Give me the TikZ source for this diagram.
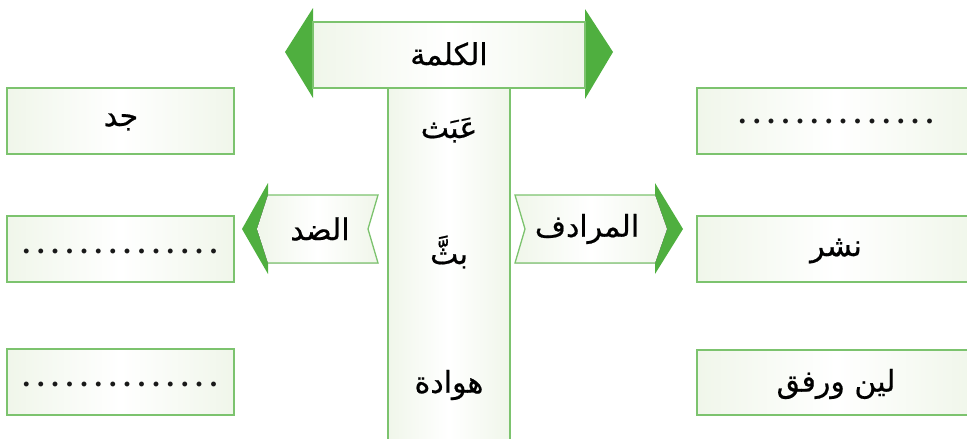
\documentclass[tikz,border=0pt]{standalone}
\usepackage{fontspec}
\newfontfamily\arabicfont[Script=Arabic, FakeBold=0.6]{DejaVu Sans}
\newfontfamily\dotfont{Liberation Serif}
\TeXXeTstate=1
\definecolor{edgeg}{HTML}{7CC36E}
\definecolor{darkg}{HTML}{4FAF3F}
\definecolor{paleg}{HTML}{F0F6EA}
\newcommand\mydotcell{\makebox[14.4pt]{.}}
\newcommand\mydotrow{\mydotcell\mydotcell\mydotcell\mydotcell\mydotcell\mydotcell\mydotcell\mydotcell\mydotcell\mydotcell\mydotcell\mydotcell\mydotcell\mydotcell}
\tikzset{
  panel/.style={left color=paleg, right color=paleg, middle color=white},
  rim/.style={draw=edgeg, line width=1.3pt},
  tri/.style={fill=darkg},
  word/.style={font=\arabicfont\fontsize{30}{34}\selectfont, text=black, inner sep=0pt},
  dotrow/.style={font=\dotfont\bfseries\fontsize{30}{34}\selectfont, text=black!90, inner sep=0pt}
}
\begin{document}
\begin{tikzpicture}[x=1pt,y=-1pt]
\useasboundingbox (0,0) rectangle (967,439);
% central column
\path[panel,rim] (388,88) rectangle (510,445);
% top banner
\fill[tri] (313,8) -- (285,52) -- (313,98) -- cycle;
\fill[tri] (585,9) -- (613,52) -- (585,99) -- cycle;
\path[panel,rim] (313,22) rectangle (585,88);
\node[word] (kalima) at (449,54) {\beginR الكلمة\endR};
% column words
\node[word] (w1) at (449,130) {\beginR عَبَث\endR};
\node[word] (w2) at (449,252) {\beginR بثَّ\endR};
\node[word] (w3) at (449,385) {\beginR هوادة\endR};
% left arrow (antonym)
\fill[tri] (268,183) -- (242,229) -- (268,274) -- cycle;
\fill[panel] (378,195) -- (268,195) -- (257,229) -- (268,263) -- (378,263) -- (368,229) -- cycle;
\draw[rim] (268,195) -- (378,195) -- (368,229) -- (378,263) -- (268,263);
\node[word] (didd) at (320,229) {\beginR الضد\endR};
% right arrow (synonym)
\fill[tri] (655,183) -- (683,229) -- (655,274) -- cycle;
\fill[panel] (515,195) -- (655,195) -- (667,229) -- (655,263) -- (515,263) -- (525,229) -- cycle;
\draw[rim] (655,195) -- (515,195) -- (525,229) -- (515,263) -- (655,263);
\node[word] (muradif) at (587,229) {\beginR المرادف\endR};
% left boxes
\path[panel,rim] (7,88) rectangle (234,154);
\path[panel,rim] (7,216) rectangle (234,282);
\path[panel,rim] (7,349) rectangle (234,415);
\node[word] (l1) at (121,122) {\beginR جد\endR};
\node[dotrow] (l2) at (120,251) {\mydotrow};
\node[dotrow] (l3) at (120,384) {\mydotrow};
% right boxes
\path[panel,rim] (697,88) rectangle (975,154);
\path[panel,rim] (697,216) rectangle (975,282);
\path[panel,rim] (697,350) rectangle (975,415);
\node[dotrow] (r1) at (836,121) {\mydotrow};
\node[word] (r2) at (836,251) {\beginR نشر\endR};
\node[word] (r3) at (836,384) {\beginR لين ورفق\endR};
\end{tikzpicture}
\end{document}
